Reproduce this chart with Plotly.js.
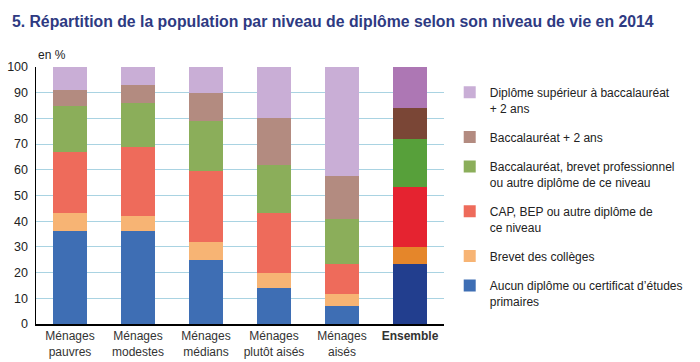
<!DOCTYPE html>
<html><head><meta charset="utf-8">
<script src="https://cdn.plot.ly/plotly-3.0.1.min.js"></script>
<style>html,body{margin:0;padding:0;background:#fff}</style>
</head><body><div id="chart" style="width:700px;height:362px"></div>
<script>
const categories = ["Ménages<br>pauvres","Ménages<br>modestes","Ménages<br>médians","Ménages<br>plutôt aisés","Ménages<br>aisés","<b>Ensemble</b>"];
const seriesNames = ["Aucun diplôme ou certificat d’études<br>primaires","Brevet des collèges","CAP, BEP ou autre diplôme de<br>ce niveau","Baccalauréat, brevet professionnel<br>ou autre diplôme de ce niveau","Baccalauréat + 2 ans","Diplôme supérieur à baccalauréat<br>+ 2 ans"];
const aucun      = [36, 36, 25, 14, 7, 23.5];
const brevet     = [7, 6, 7, 6, 4.7, 6.5];
const cap        = [24, 27, 27.5, 23, 11.8, 23.5];
const bac        = [18, 17, 19.5, 19, 17.3, 18.5];
const bac2       = [6, 7, 11, 18, 16.7, 12];
const superieur  = [9, 7, 10, 20, 42.5, 16];
const values = [aucun, brevet, cap, bac, bac2, superieur];
const lightColors = ["#3E6EB4","#F7B474","#EE6B5B","#8BAE5A","#B38B80","#C9AED6"];
const darkColors  = ["#223E8E","#E5862A","#E52330","#57A03A","#7A4636","#AD77B4"];

const font = "'Liberation Sans', Arial, sans-serif";
const traces = values.map((v, i) => ({
  type: "bar",
  x: categories,
  y: v,
  name: seriesNames[i],
  legendgroup: "g" + i,
  legendrank: 100 - i,
  marker: {color: categories.map((c, j) => j === categories.length - 1 ? darkColors[i] : lightColors[i]), line: {width: 0}},
  hoverinfo: "none"
}));

const layout = {
  width: 700, height: 362,
  margin: {l: 36, r: 236, t: 67, b: 38},
  barmode: "stack",
  bargap: 0.49,
  paper_bgcolor: "#fff", plot_bgcolor: "#fff",
  font: {family: font, size: 12, color: "#222"},
  title: {text: "<b>5. Répartition de la population par niveau de diplôme selon son niveau de vie en 2014</b>",
          x: 0.017, xanchor: "left", y: 0.942, yanchor: "middle",
          font: {family: font, size: 15.8, color: "#2E3A82"}},
  xaxis: {showline: true, linecolor: "#000", linewidth: 1.5, ticks: "", showgrid: false,
          tickfont: {family: font, size: 12, color: "#333"}},
  yaxis: {range: [0, 100], dtick: 10, showline: true, linecolor: "#000", linewidth: 1.5,
          gridcolor: "#A9D3E2", gridwidth: 1, ticks: "", zeroline: false,
          tickfont: {family: font, size: 12.5, color: "#222"}, ticklabelstandoff: 4},
  showlegend: true,
  legend: {x: 1.014, xanchor: "left", y: 0.957, yanchor: "top", traceorder: "grouped",
           tracegroupgap: 10.5, valign: "top", font: {family: font, size: 12, color: "#222"}, bgcolor: "rgba(0,0,0,0)"},
  annotations: [{text: "en %", xref: "paper", yref: "paper", x: 0, y: 1.045, xanchor: "left", yanchor: "middle",
                 showarrow: false, font: {family: font, size: 12, color: "#222"}}]
};
Plotly.newPlot("chart", traces, layout, {displayModeBar: false, staticPlot: true});
</script></body></html>
